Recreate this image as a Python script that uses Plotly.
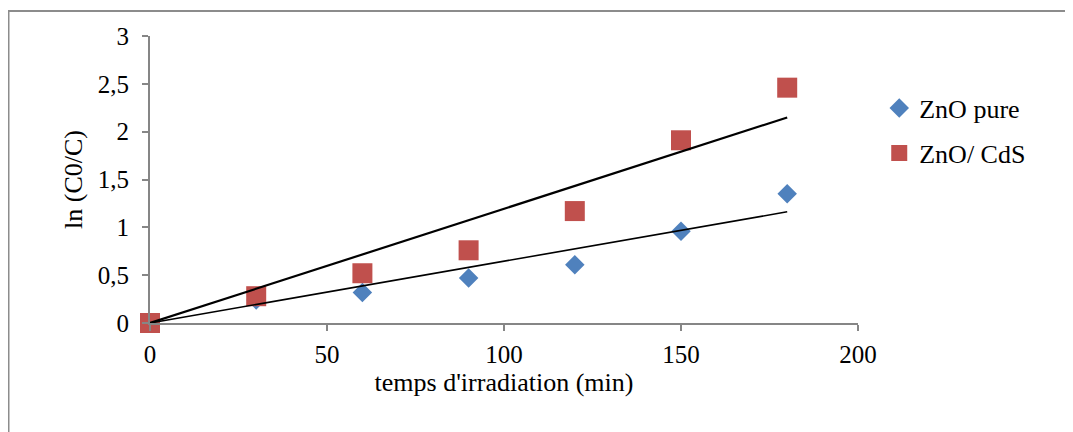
import numpy as np
import plotly.graph_objects as go

# Data
time_min = [0, 30, 60, 90, 120, 150, 180]
zno_pure = [0, 0.24, 0.32, 0.47, 0.61, 0.96, 1.35]
zno_cds = [0, 0.28, 0.52, 0.76, 1.17, 1.91, 2.46]
x_ticks = [0, 50, 100, 150, 200]
y_ticks = [0, 0.5, 1, 1.5, 2, 2.5, 3]

BLUE = "#4F81BD"
RED = "#C0504D"
FONT = "Liberation Serif"
TICK_SIZE = 25
TITLE_SIZE = 26
LEG_SIZE = 26


def fit_origin(x, y):
    x = np.asarray(x, float)
    y = np.asarray(y, float)
    return np.sum(x * y) / np.sum(x * x)


fig = go.Figure()
fig.add_trace(go.Scatter(
    x=time_min, y=zno_pure, mode="markers", name="ZnO pure",
    marker=dict(symbol="diamond", size=15, color=BLUE, line=dict(width=0)),
    cliponaxis=False, legend="legend"))
fig.add_trace(go.Scatter(
    x=time_min, y=zno_cds, mode="markers", name="ZnO/ CdS",
    marker=dict(symbol="square", size=20, color=RED, line=dict(width=0)),
    cliponaxis=False, legend="legend2"))

xs = [time_min[0], time_min[-1]]
k1 = fit_origin(time_min, zno_pure)
k2 = fit_origin(time_min, zno_cds)
fig.add_trace(go.Scatter(x=xs, y=[k1 * v for v in xs], mode="lines",
                         line=dict(color="black", width=1.6), showlegend=False,
                         cliponaxis=False, hoverinfo="skip"))
fig.add_trace(go.Scatter(x=xs, y=[k2 * v for v in xs], mode="lines",
                         line=dict(color="black", width=2.2), showlegend=False,
                         cliponaxis=False, hoverinfo="skip"))

axis_common = dict(
    showgrid=False, zeroline=False, showline=True, linecolor="#868686",
    linewidth=2, ticks="outside", tickcolor="#868686", ticklen=6, tickwidth=1.5,
    tickfont=dict(family=FONT, size=TICK_SIZE, color="black"),
)

# page has ~8px body offset; figure coordinates = reference - 8
L, T = 142, 28
PW, PH = 708, 287
W, H = 1065, 424

fig.update_layout(
    width=W, height=H,
    margin=dict(l=L, r=W - L - PW, t=T, b=H - T - PH),
    paper_bgcolor="white", plot_bgcolor="white",
    separators=", ",
    font=dict(family=FONT, size=TICK_SIZE, color="black"),
    xaxis=dict(range=[0, 200], tickvals=x_ticks,
               title=dict(text="temps d'irradiation (min)", standoff=4,
                          font=dict(family=FONT, size=TITLE_SIZE)),
               ticklabelstandoff=2, **axis_common),
    yaxis=dict(range=[0, 3], tickvals=y_ticks,
               title=dict(text="ln (C0/C)", standoff=8,
                          font=dict(family=FONT, size=TITLE_SIZE)),
               ticklabelstandoff=8, **axis_common),
    legend=dict(x=1.03, y=(PH - (108 - 36)) / PH, xanchor="left", yanchor="middle",
                font=dict(family=FONT, size=LEG_SIZE), bgcolor="rgba(0,0,0,0)",
                itemwidth=30),
    legend2=dict(x=1.03, y=(PH - (153 - 36)) / PH, xanchor="left", yanchor="middle",
                 font=dict(family=FONT, size=LEG_SIZE), bgcolor="rgba(0,0,0,0)",
                 itemwidth=30),
    shapes=[dict(type="rect", xref="paper", yref="paper",
                 x0=(0.5 - L) / PW, x1=(1080 - L) / PW,
                 y0=(T + PH - 440) / PH, y1=(T + PH - 3) / PH,
                 line=dict(color="#8C8C8C", width=2), fillcolor="rgba(0,0,0,0)",
                 layer="below")],
)

fig.write_html("out.html")
